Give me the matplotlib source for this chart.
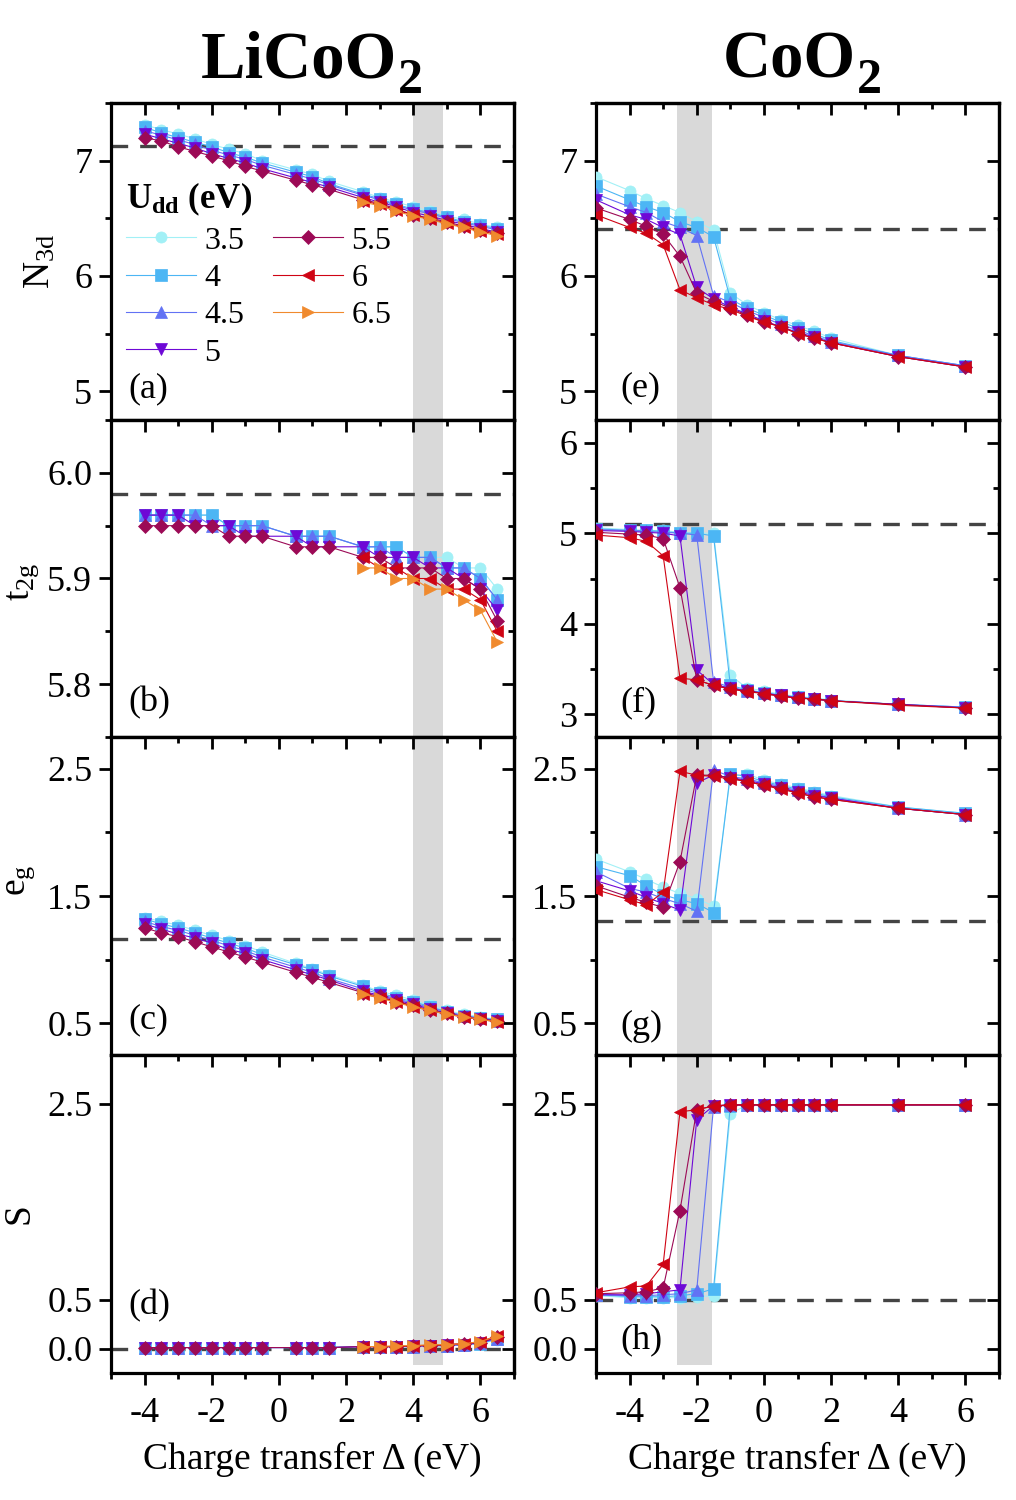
import numpy as np
import matplotlib
matplotlib.use('Agg')
import matplotlib.pyplot as plt
from matplotlib.ticker import MultipleLocator, FixedLocator, FormatStrFormatter

plt.rcParams['font.family'] = ['Liberation Serif', 'DejaVu Serif']
plt.rcParams['mathtext.fontset'] = 'custom'
plt.rcParams['mathtext.rm'] = 'Liberation Serif'
plt.rcParams['mathtext.it'] = 'Liberation Serif:italic'
plt.rcParams['mathtext.bf'] = 'Liberation Serif:bold'
plt.rcParams['axes.unicode_minus'] = False

# U_dd values and styles
U = ['3.5', '4', '4.5', '5', '5.5', '6', '6.5']
cols = ['#a2f0f6', '#4cb6f4', '#6272f4', '#6e08d6', '#9c0a56', '#cf0414', '#f08a2e']
mks = ['o', 's', '^', 'v', 'D', '<', '>']

# ---- LiCoO2 ----
xL = [-4, -3.5, -3, -2.5, -2, -1.5, -1, -0.5, 0.5, 1, 1.5, 2.5, 3, 3.5, 4, 4.5, 5, 5.5, 6, 6.5]
xL_hi = [2.5, 3, 3.5, 4, 4.5, 5, 5.5, 6, 6.5]   # U = 6, 6.5

n3d_L = [
    [7.31, 7.27, 7.23, 7.19, 7.14, 7.10, 7.06, 7.00, 6.92, 6.88, 6.82, 6.73, 6.68, 6.64, 6.60, 6.56, 6.52, 6.49, 6.45, 6.42],
    [7.29, 7.24, 7.20, 7.16, 7.12, 7.07, 7.03, 6.98, 6.90, 6.86, 6.80, 6.71, 6.67, 6.62, 6.58, 6.55, 6.51, 6.47, 6.44, 6.41],
    [7.26, 7.22, 7.18, 7.14, 7.09, 7.05, 7.01, 6.96, 6.88, 6.84, 6.79, 6.70, 6.66, 6.61, 6.57, 6.54, 6.50, 6.46, 6.43, 6.40],
    [7.23, 7.19, 7.15, 7.11, 7.06, 7.02, 6.98, 6.93, 6.85, 6.81, 6.77, 6.68, 6.64, 6.60, 6.55, 6.52, 6.48, 6.45, 6.41, 6.38],
    [7.20, 7.17, 7.12, 7.08, 7.04, 7.00, 6.95, 6.91, 6.83, 6.79, 6.75, 6.66, 6.63, 6.58, 6.53, 6.50, 6.47, 6.43, 6.40, 6.37],
    [6.65, 6.62, 6.57, 6.53, 6.49, 6.46, 6.42, 6.39, 6.36],
    [6.64, 6.61, 6.56, 6.52, 6.49, 6.45, 6.42, 6.38, 6.35],
]
t2g_L = [
    [5.96, 5.96, 5.96, 5.96, 5.96, 5.95, 5.95, 5.95, 5.94, 5.94, 5.94, 5.93, 5.93, 5.93, 5.92, 5.92, 5.92, 5.91, 5.91, 5.89],
    [5.96, 5.96, 5.96, 5.96, 5.96, 5.95, 5.95, 5.95, 5.94, 5.94, 5.94, 5.93, 5.93, 5.93, 5.92, 5.92, 5.91, 5.91, 5.90, 5.88],
    [5.96, 5.96, 5.96, 5.96, 5.95, 5.95, 5.95, 5.95, 5.94, 5.94, 5.94, 5.93, 5.93, 5.92, 5.92, 5.92, 5.91, 5.91, 5.90, 5.88],
    [5.96, 5.96, 5.96, 5.95, 5.95, 5.95, 5.94, 5.94, 5.94, 5.93, 5.93, 5.93, 5.92, 5.92, 5.92, 5.91, 5.91, 5.90, 5.89, 5.87],
    [5.95, 5.95, 5.95, 5.95, 5.95, 5.94, 5.94, 5.94, 5.93, 5.93, 5.93, 5.92, 5.92, 5.91, 5.91, 5.91, 5.90, 5.90, 5.89, 5.86],
    [5.92, 5.91, 5.91, 5.90, 5.90, 5.89, 5.89, 5.88, 5.85],
    [5.91, 5.91, 5.90, 5.90, 5.89, 5.89, 5.88, 5.87, 5.84],
]
eg_L = [
    [1.33, 1.30, 1.27, 1.23, 1.19, 1.15, 1.11, 1.06, 0.97, 0.93, 0.88, 0.80, 0.75, 0.72, 0.68, 0.64, 0.60, 0.57, 0.55, 0.53],
    [1.32, 1.28, 1.25, 1.21, 1.17, 1.13, 1.09, 1.04, 0.96, 0.92, 0.87, 0.79, 0.74, 0.70, 0.67, 0.63, 0.59, 0.56, 0.54, 0.53],
    [1.30, 1.26, 1.23, 1.19, 1.15, 1.11, 1.07, 1.02, 0.94, 0.90, 0.85, 0.77, 0.73, 0.69, 0.66, 0.62, 0.59, 0.56, 0.54, 0.52],
    [1.28, 1.24, 1.20, 1.17, 1.13, 1.08, 1.05, 1.00, 0.92, 0.88, 0.84, 0.75, 0.72, 0.68, 0.65, 0.61, 0.58, 0.55, 0.53, 0.52],
    [1.25, 1.21, 1.18, 1.14, 1.10, 1.06, 1.02, 0.98, 0.90, 0.86, 0.82, 0.74, 0.71, 0.67, 0.64, 0.60, 0.58, 0.55, 0.53, 0.52],
    [0.73, 0.70, 0.67, 0.63, 0.60, 0.57, 0.55, 0.53, 0.51],
    [0.73, 0.70, 0.66, 0.63, 0.60, 0.57, 0.55, 0.53, 0.51],
]
S_L = [
    [0.01, 0.01, 0.01, 0.01, 0.01, 0.01, 0.01, 0.01, 0.01, 0.01, 0.01, 0.02, 0.02, 0.02, 0.02, 0.03, 0.03, 0.04, 0.05, 0.09],
    [0.01, 0.01, 0.01, 0.01, 0.01, 0.01, 0.01, 0.01, 0.01, 0.01, 0.01, 0.02, 0.02, 0.02, 0.02, 0.03, 0.03, 0.04, 0.05, 0.10],
    [0.01, 0.01, 0.01, 0.01, 0.01, 0.01, 0.01, 0.01, 0.01, 0.01, 0.01, 0.02, 0.02, 0.02, 0.02, 0.03, 0.03, 0.04, 0.06, 0.10],
    [0.01, 0.01, 0.01, 0.01, 0.01, 0.01, 0.01, 0.01, 0.01, 0.01, 0.01, 0.02, 0.02, 0.02, 0.03, 0.03, 0.04, 0.04, 0.06, 0.11],
    [0.01, 0.01, 0.01, 0.01, 0.01, 0.01, 0.01, 0.01, 0.01, 0.01, 0.01, 0.02, 0.02, 0.02, 0.03, 0.03, 0.04, 0.05, 0.06, 0.12],
    [0.02, 0.02, 0.02, 0.03, 0.03, 0.04, 0.05, 0.07, 0.13],
    [0.02, 0.02, 0.03, 0.03, 0.04, 0.04, 0.05, 0.07, 0.13],
]

# ---- CoO2 ----
xR = [-5, -4, -3.5, -3, -2.5, -2, -1.5, -1, -0.5, 0, 0.5, 1, 1.5, 2, 4, 6]

n3d_R = [
    [6.86, 6.74, 6.67, 6.61, 6.55, 6.47, 6.40, 5.85, 5.75, 5.68, 5.62, 5.57, 5.52, 5.46, 5.31, 5.22],
    [6.78, 6.66, 6.60, 6.55, 6.47, 6.42, 6.34, 5.80, 5.72, 5.66, 5.60, 5.55, 5.50, 5.44, 5.31, 5.22],
    [6.71, 6.60, 6.55, 6.47, 6.42, 6.35, 5.83, 5.77, 5.70, 5.64, 5.58, 5.53, 5.48, 5.43, 5.31, 5.22],
    [6.66, 6.53, 6.49, 6.42, 6.36, 5.90, 5.80, 5.73, 5.67, 5.61, 5.56, 5.51, 5.47, 5.42, 5.30, 5.21],
    [6.59, 6.49, 6.43, 6.36, 6.17, 5.85, 5.78, 5.72, 5.66, 5.60, 5.56, 5.50, 5.46, 5.42, 5.30, 5.21],
    [6.53, 6.42, 6.37, 6.27, 5.88, 5.81, 5.75, 5.71, 5.65, 5.60, 5.56, 5.50, 5.46, 5.42, 5.30, 5.21],
]
t2g_R = [
    [5.06, 5.04, 5.03, 5.03, 5.01, 5.00, 5.00, 3.43, 3.29, 3.26, 3.22, 3.20, 3.18, 3.16, 3.11, 3.08],
    [5.05, 5.03, 5.03, 5.02, 5.00, 5.00, 4.97, 3.32, 3.27, 3.24, 3.21, 3.19, 3.17, 3.15, 3.11, 3.08],
    [5.04, 5.03, 5.02, 5.01, 5.00, 4.98, 3.36, 3.30, 3.26, 3.24, 3.21, 3.19, 3.17, 3.15, 3.11, 3.08],
    [5.03, 5.02, 5.01, 5.00, 4.97, 3.49, 3.33, 3.29, 3.26, 3.23, 3.21, 3.18, 3.17, 3.15, 3.11, 3.07],
    [5.01, 4.99, 4.98, 4.94, 4.40, 3.38, 3.32, 3.28, 3.26, 3.23, 3.20, 3.18, 3.17, 3.15, 3.11, 3.07],
    [4.98, 4.95, 4.91, 4.75, 3.40, 3.38, 3.32, 3.28, 3.25, 3.23, 3.20, 3.18, 3.17, 3.15, 3.10, 3.07],
]
eg_R = [
    [1.79, 1.69, 1.63, 1.57, 1.52, 1.48, 1.42, 2.44, 2.46, 2.41, 2.38, 2.35, 2.32, 2.29, 2.20, 2.15],
    [1.73, 1.66, 1.58, 1.51, 1.47, 1.44, 1.37, 2.46, 2.44, 2.40, 2.37, 2.34, 2.31, 2.28, 2.20, 2.15],
    [1.69, 1.56, 1.53, 1.48, 1.44, 1.38, 2.49, 2.44, 2.42, 2.39, 2.36, 2.33, 2.30, 2.27, 2.19, 2.14],
    [1.62, 1.54, 1.49, 1.44, 1.39, 2.39, 2.45, 2.43, 2.41, 2.38, 2.35, 2.32, 2.29, 2.27, 2.19, 2.14],
    [1.58, 1.49, 1.45, 1.41, 1.77, 2.45, 2.45, 2.43, 2.40, 2.37, 2.35, 2.31, 2.28, 2.26, 2.19, 2.14],
    [1.55, 1.47, 1.43, 1.53, 2.48, 2.45, 2.44, 2.42, 2.40, 2.37, 2.34, 2.31, 2.28, 2.26, 2.19, 2.14],
]
S_R = [
    [0.54, 0.52, 0.52, 0.52, 0.52, 0.53, 0.54, 2.40, 2.49, 2.49, 2.49, 2.49, 2.49, 2.49, 2.49, 2.49],
    [0.55, 0.53, 0.53, 0.53, 0.54, 0.56, 0.61, 2.48, 2.49, 2.49, 2.49, 2.49, 2.49, 2.49, 2.49, 2.49],
    [0.55, 0.54, 0.54, 0.55, 0.56, 0.60, 2.47, 2.49, 2.49, 2.49, 2.49, 2.49, 2.49, 2.49, 2.49, 2.49],
    [0.55, 0.55, 0.56, 0.58, 0.60, 2.34, 2.48, 2.49, 2.49, 2.49, 2.49, 2.49, 2.49, 2.49, 2.49, 2.49],
    [0.56, 0.57, 0.58, 0.62, 1.41, 2.44, 2.48, 2.49, 2.49, 2.49, 2.49, 2.49, 2.49, 2.49, 2.49, 2.49],
    [0.57, 0.63, 0.64, 0.86, 2.42, 2.44, 2.48, 2.49, 2.49, 2.49, 2.49, 2.49, 2.49, 2.49, 2.49, 2.49],
]

# reference (dashed) levels, panels a..h
ref_L = [7.13, 5.98, 1.16, 0.0]
ref_R = [6.41, 5.10, 1.30, 0.5]
shade_L = (3.98, 4.89)
shade_R = (-2.6, -1.56)

ylabels = [r'N$_{\mathrm{3d}}$', r't$_{\mathrm{2g}}$', r'e$_{\mathrm{g}}$', 'S']
ylab_x = [-0.176, -0.218, -0.226, -0.228]
ylab_y = [0.5, 0.49, 0.55, 0.5]
panel_L = ['(a)', '(b)', '(c)', '(d)']
panel_R = ['(e)', '(f)', '(g)', '(h)']
pan_y = [0.098, 0.107, 0.11, 0.21]
pan_yR = [0.1, 0.107, 0.09, 0.104]

fig = plt.figure(figsize=(10.16, 15), dpi=100)
W, H = 1016.0, 1500.0
lefts = [111, 596]
tops = [103, 420, 737, 1055]
bots = [420, 737, 1055, 1373]


def yticks(row, right):
    if row == 0:
        return MultipleLocator(1), MultipleLocator(0.5), FormatStrFormatter('%d'), (4.75, 7.5)
    if row == 1:
        if right:
            return MultipleLocator(1), MultipleLocator(0.5), FormatStrFormatter('%d'), (2.75, 6.25)
        return MultipleLocator(0.1), MultipleLocator(0.05), FormatStrFormatter('%.1f'), (5.75, 6.05)
    if row == 2:
        return FixedLocator([0.5, 1.5, 2.5]), FixedLocator([1.0, 2.0]), FormatStrFormatter('%.1f'), (0.25, 2.75)
    return FixedLocator([0.0, 0.5, 2.5]), FixedLocator([]), FormatStrFormatter('%.1f'), (-0.25, 3.0)


data_L = [n3d_L, t2g_L, eg_L, S_L]
data_R = [n3d_R, t2g_R, eg_R, S_R]

for c in range(2):
    for r in range(4):
        ax = fig.add_axes([lefts[c] / W, 1 - bots[r] / H, 403 / W, (bots[r] - tops[r]) / H])
        right = c == 1
        ys_list = data_R[r] if right else data_L[r]
        for i, ys in enumerate(ys_list):
            if right:
                xs = xR
            else:
                xs = xL if i < 5 else xL_hi
            ax.plot(xs, ys, color=cols[i], marker=mks[i], ms=7 if mks[i] == 'D' else 8,
                    mec=cols[i], mew=0.5, lw=0.8, label=U[i], zorder=3 + 0.1 * i)
        sh = shade_R if right else shade_L
        ax.axvspan(sh[0], sh[1], ymin=0.025 if r == 3 else 0, ymax=1, color='#d9d9d9', lw=0, zorder=0)
        ax.axhline(ref_R[r] if right else ref_L[r], color='#444444', lw=2.4, dashes=(5, 3.6), zorder=1.5)

        ax.set_xlim(-5, 7)
        maj, mnr, fmt, yl = yticks(r, right)
        ax.set_ylim(*yl)
        ax.yaxis.set_major_locator(maj)
        ax.yaxis.set_minor_locator(mnr)
        ax.yaxis.set_major_formatter(fmt)
        ax.xaxis.set_major_locator(MultipleLocator(2))
        ax.xaxis.set_minor_locator(MultipleLocator(1))
        for s in ax.spines.values():
            s.set_linewidth(2.3)
        ax.tick_params(which='both', direction='out', width=2, labelsize=26, pad=5)
        ax.tick_params(which='major', length=8.5)
        ax.tick_params(which='minor', length=4.5)
        ax.tick_params(axis='x', pad=9)
        if r < 3:
            ax.tick_params(axis='x', which='both', bottom=False, labelbottom=False)
        else:
            ax.set_xlabel('Charge transfer Δ (eV)', fontsize=27, labelpad=8)

        # inward ticks on the right and top sides
        sy = ax.secondary_yaxis('right')
        sy.yaxis.set_major_locator(maj)
        sy.yaxis.set_minor_locator(mnr)
        sy.tick_params(which='both', direction='in', width=2, labelright=False)
        sy.tick_params(which='major', length=8.5)
        sy.tick_params(which='minor', length=4.5)
        sx = ax.secondary_xaxis('top')
        sx.xaxis.set_major_locator(MultipleLocator(2))
        sx.xaxis.set_minor_locator(MultipleLocator(1))
        sx.tick_params(which='both', direction='in', width=2, labeltop=False)
        sx.tick_params(which='major', length=8.5)
        sx.tick_params(which='minor', length=4.5)
        for s in list(sy.spines.values()) + list(sx.spines.values()):
            s.set_linewidth(2.3)

        if right:
            ax.text(0.06, pan_yR[r], panel_R[r], transform=ax.transAxes, fontsize=26,
                    ha='left', va='center')
        else:
            ax.text(0.042, pan_y[r], panel_L[r], transform=ax.transAxes, fontsize=26,
                    ha='left', va='center')
            ax.set_ylabel(ylabels[r], fontsize=27, va='center')
            ax.yaxis.set_label_coords(ylab_x[r], ylab_y[r])

        if r == 0 and not right:
            h, l = ax.get_legend_handles_labels()
            leg = ax.legend(h, l, ncol=2, loc='upper left', bbox_to_anchor=(-0.018, 0.825),
                            frameon=False, fontsize=23, handlelength=2.2, handletextpad=0.25,
                            columnspacing=0.9, labelspacing=0.25, borderpad=0.2,
                            title=r'U$_{\mathbf{dd}}$ (eV)', alignment='left',
                            title_fontproperties={'size': 25, 'weight': 'bold'})

# titles, with the subscript set lower as in the original
fig.text(397 / W, 1 - 78 / H, 'LiCoO', fontsize=48, fontweight='bold', ha='right', va='baseline')
fig.text(398 / W, 1 - 93 / H, '2', fontsize=36, fontweight='bold', ha='left', va='baseline')
fig.text(856 / W, 1 - 78 / H, 'CoO', fontsize=48, fontweight='bold', ha='right', va='baseline')
fig.text(857 / W, 1 - 93 / H, '2', fontsize=36, fontweight='bold', ha='left', va='baseline')

fig.savefig('out.png', dpi=100)
